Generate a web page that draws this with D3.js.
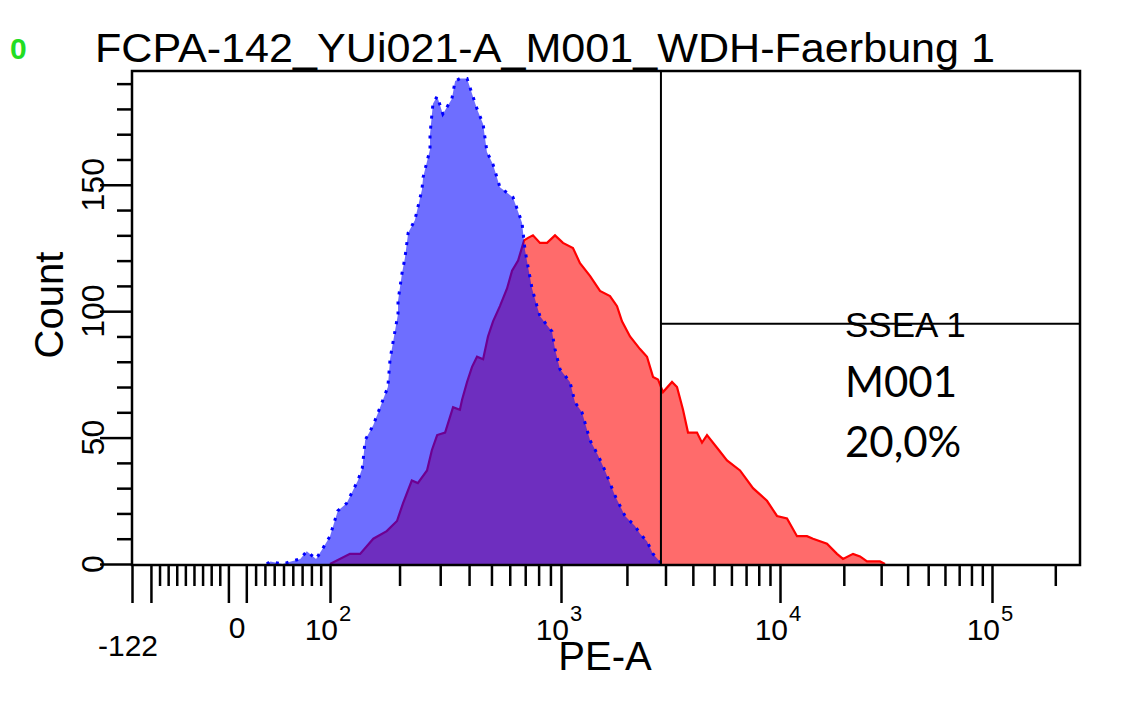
<!DOCTYPE html>
<html lang="en">
  <head>
    <meta charset="UTF-8" />
    <title>PE-A histogram overlay</title>
    <script src="https://d3js.org/d3.v7.min.js"></script>
    <style>
      body { margin: 0; background: #fff; }
      svg text { font-family: "Liberation Sans", Arial, sans-serif; fill: #000; }
    </style>
  </head>
  <body>
    <div id="chart"></div>
    <script>
      const width = 1121;
      const height = 721;

      // histogram outlines (PE-A value, count)
      const bluePE = [32, 36, 49, 58, 68, 75, 85, 92, 100, 108, 118, 132, 138, 142, 154, 168, 178, 182, 186, 197,
        197, 205, 211, 218, 233, 250, 253, 271, 271, 279, 291, 308, 337, 348, 365, 392, 433, 460, 478, 508,
        544, 620, 678, 699, 749, 787, 811, 914, 942, 990, 1099, 1158, 1247, 1356, 1476, 1588, 1765, 1960, 2177, 2295,
        2470, 2631, 2832, 2870];
      const blueCount = [0, 1, 0, 1, 2, 5, 2, 6, 11, 21, 24, 33, 38, 49, 55, 64, 70, 81, 86, 99,
        104, 115, 121, 131, 136, 148, 153, 164, 170, 182, 185, 178, 184, 191, 192, 192, 180, 174, 163, 158,
        149, 145, 135, 124, 109, 102, 98, 92, 85, 77, 72, 64, 60, 49, 43, 37, 27, 19, 15, 12,
        9, 4, 1, 0];

      const redPE = [100, 122, 135, 154, 176, 195, 207, 226, 240, 263, 276, 291, 315, 341, 365, 373, 392, 412, 433, 460,
        483, 508, 544, 584, 614, 652, 692, 720, 756, 811, 870, 942, 1021, 1134, 1221, 1356, 1507, 1674, 1802, 1899,
        2066, 2295, 2470, 2631, 2773, 2923, 3213, 3386, 3607, 3802, 4178, 4404, 4642, 5157, 5728, 6568, 7529, 8721, 9690, 10790,
        12030, 13410, 14310, 16660, 18570, 19830, 22100, 23850, 25730, 29630, 31290];
      const redCount = [0, 4, 4, 10, 13, 17, 24, 33, 32, 37, 45, 51, 52, 62, 61, 65, 72, 78, 82, 81,
        90, 96, 102, 109, 116, 120, 128, 129, 130, 127, 127, 130, 127, 125, 119, 114, 108, 106, 102, 96,
        90, 85, 82, 74, 73, 68, 72, 70, 61, 52, 52, 48, 51, 46, 41, 37, 30, 25, 19, 18,
        11, 11, 10, 8, 4, 2, 4, 3, 1, 1, 0];

      // axis ticks
      const xMajorTicks = [-100, -10, 10, 100, 1000, 10000, 100000];
      const xMinorTicks = [-90, -80, -70, -60, -50, -40, -30, -20, 20, 30, 40, 50, 60, 70, 80, 90,
        200, 300, 400, 500, 600, 700, 800, 900, 2000, 3000, 4000, 5000, 6000, 7000, 8000, 9000,
        20000, 30000, 40000, 50000, 60000, 70000, 80000, 90000, 200000];
      const xLabelTicks = [0, 100, 1000, 10000, 100000];
      const xLabelExp = ["", "2", "3", "4", "5"];
      const xMin = -122;
      const xMax = 262144;
      const yMajorTicks = [0, 50, 100, 150];
      const yMinorTicks = [10, 20, 30, 40, 60, 70, 80, 90, 110, 120, 130, 140, 160, 170, 180, 190];
      const yMax = 195;

      // gate marker
      const gateMin = 2860;
      const gateLevel = 95;
      const gateName = "SSEA 1";
      const markerName = "M001";
      const markerPct = "20,0%";
      const title = "FCPA-142_YUi021-A_M001_WDH-Faerbung 1";

      const plot = { left: 132, right: 1080, top: 71, bottom: 565 };

      // biexponential-like display: linear near zero, log above 100
      const tf = (v) => (v >= 100 ? Math.log10(v) : 2 + (v - 100) / (100 * Math.LN10));
      const xBreaks = [xMin, 0, 100, 1000, 10000, 100000, xMax];
      const xT = d3
        .scaleLinear()
        .domain(xBreaks.map(tf))
        .range([plot.left, 237, 330, 561, 780, 992, plot.right]);
      const x = (v) => xT(tf(v));

      const y = d3.scaleLinear().domain([0, yMax]).range([plot.bottom - 1, plot.top]);

      const svg = d3
        .select("#chart")
        .append("svg")
        .attr("width", width)
        .attr("height", height);

      svg.append("defs")
        .append("clipPath")
        .attr("id", "plotClip")
        .append("rect")
        .attr("x", plot.left)
        .attr("y", plot.top)
        .attr("width", plot.right - plot.left)
        .attr("height", plot.bottom - plot.top);

      const area = d3
        .area()
        .x((d) => x(d[0]))
        .y0(y(0))
        .y1((d) => y(d[1]));
      const line = d3
        .line()
        .x((d) => x(d[0]))
        .y((d) => y(d[1]));

      const redData = redPE.map((v, i) => [v, redCount[i]]);
      const blueData = bluePE.map((v, i) => [v, blueCount[i]]);

      const g = svg.append("g").attr("clip-path", "url(#plotClip)");

      g.append("path").datum(redData).attr("d", area)
        .style("fill", "#ff0000").style("fill-opacity", 0.58);
      g.append("path").datum(redData).attr("d", line)
        .style("fill", "none").style("stroke", "#ff0000").style("stroke-width", 2.2);

      g.append("path").datum(blueData).attr("d", area)
        .style("fill", "#0000ff").style("fill-opacity", 0.57);
      g.append("path").datum(blueData).attr("d", line)
        .style("fill", "none").style("stroke", "#0000ff").style("stroke-width", 3)
        .style("stroke-dasharray", "3,7");

      // gate lines
      svg.append("line")
        .attr("x1", x(gateMin)).attr("x2", x(gateMin))
        .attr("y1", plot.top).attr("y2", plot.bottom)
        .style("stroke", "#000").style("stroke-width", 2);
      svg.append("line")
        .attr("x1", x(gateMin)).attr("x2", plot.right)
        .attr("y1", y(gateLevel)).attr("y2", y(gateLevel))
        .style("stroke", "#000").style("stroke-width", 2);

      // frame
      svg.append("rect")
        .attr("x", plot.left).attr("y", plot.top)
        .attr("width", plot.right - plot.left)
        .attr("height", plot.bottom - plot.top)
        .style("fill", "none").style("stroke", "#000").style("stroke-width", 2.5);

      // x axis ticks
      const xAxisMajor = d3.axisBottom(xT).tickValues(xMajorTicks.concat([xMin]).map(tf))
        .tickSize(38).tickFormat("");
      const xAxisMinor = d3.axisBottom(xT).tickValues(xMinorTicks.map(tf))
        .tickSize(21).tickFormat("");
      [xAxisMajor, xAxisMinor].forEach((ax) => {
        const a = svg.append("g").attr("transform", `translate(0,${plot.bottom})`).call(ax);
        a.select(".domain").remove();
        a.selectAll("line").style("stroke", "#000").style("stroke-width", 2.5);
      });

      // y axis ticks
      const yAxisMajor = d3.axisLeft(y).tickValues(yMajorTicks).tickSize(32).tickFormat("");
      const yAxisMinor = d3.axisLeft(y).tickValues(yMinorTicks).tickSize(15).tickFormat("");
      [yAxisMajor, yAxisMinor].forEach((ax) => {
        const a = svg.append("g").attr("transform", `translate(${plot.left},0)`).call(ax);
        a.select(".domain").remove();
        a.selectAll("line").style("stroke", "#000").style("stroke-width", 2.5);
      });

      // x tick labels
      xLabelTicks.forEach((v, i) => {
        if (xLabelExp[i] === "") {
          svg.append("text")
            .attr("x", x(v)).attr("y", 638)
            .attr("text-anchor", "middle")
            .style("font-size", "30px")
            .text(String(v));
        } else {
          svg.append("text")
            .attr("x", x(v) + 8).attr("y", 640)
            .attr("text-anchor", "end")
            .style("font-size", "30px")
            .text("10");
          svg.append("text")
            .attr("x", x(v) + 9).attr("y", 621)
            .style("font-size", "22px")
            .text(xLabelExp[i]);
        }
      });
      svg.append("text")
        .attr("x", x(xMin) - 4).attr("y", 656)
        .attr("text-anchor", "middle")
        .style("font-size", "30px")
        .text(String(xMin));

      // y tick labels (rotated)
      yMajorTicks.forEach((v) => {
        svg.append("text")
          .attr("transform", `translate(104,${y(v)}) rotate(-90)`)
          .attr("text-anchor", "middle")
          .style("font-size", "32px")
          .text(v);
      });

      // axis titles
      svg.append("text")
        .attr("transform", "translate(63,305) rotate(-90)")
        .attr("text-anchor", "middle")
        .style("font-size", "40px")
        .text("Count");
      svg.append("text")
        .attr("x", 605).attr("y", 670)
        .attr("text-anchor", "middle")
        .style("font-size", "40px")
        .text("PE-A");

      // title
      svg.append("text")
        .attr("x", 10).attr("y", 59)
        .style("font-size", "30px").style("font-weight", "bold")
        .style("fill", "#22dd22")
        .text("0");
      svg.append("text")
        .attr("x", 95).attr("y", 62)
        .attr("textLength", 900).attr("lengthAdjust", "spacingAndGlyphs")
        .style("font-size", "40px")
        .text(title);

      // gate annotation
      svg.append("text")
        .attr("x", 845).attr("y", 337)
        .style("font-size", "35px")
        .text(gateName);
      svg.append("text")
        .attr("x", 845).attr("y", 397)
        .style("font-family", "Lato, 'Open Sans', sans-serif")
        .style("font-size", "42px")
        .text(markerName);
      svg.append("text")
        .attr("x", 845).attr("y", 457)
        .style("font-family", "Lato, 'Open Sans', sans-serif")
        .style("font-size", "42px")
        .text(markerPct);
    </script>
  </body>
</html>
